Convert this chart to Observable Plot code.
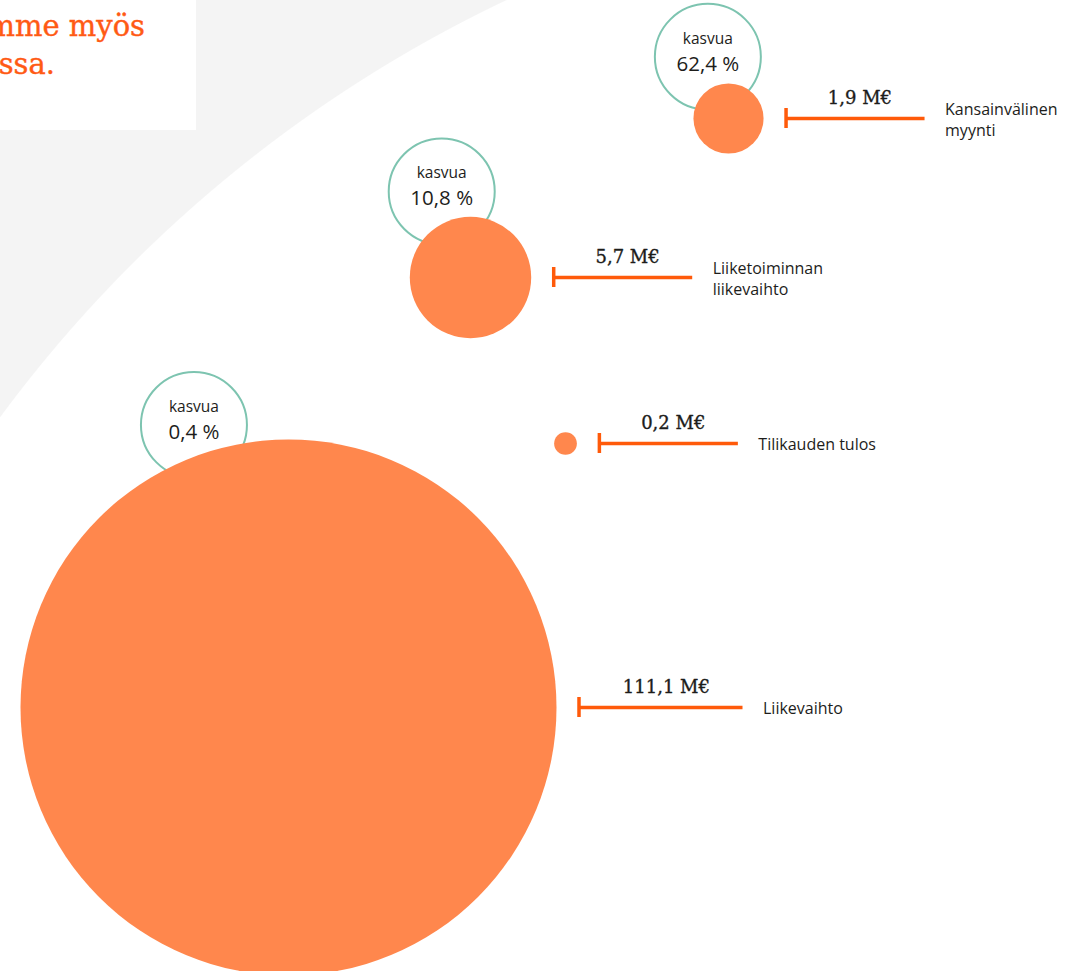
<!DOCTYPE html>
<html><head><meta charset="utf-8">
<script src="https://cdn.jsdelivr.net/npm/d3@7"></script>
<script src="https://cdn.jsdelivr.net/npm/@observablehq/plot@0.6"></script>
<style>
html,body{margin:0;padding:0;background:#fff;overflow:hidden}
#wrap{position:relative;width:1071px;height:971px;background:radial-gradient(1347px circle at 1084px 1217px,#ffffff 1346.5px,#f4f4f4 1347.5px);overflow:hidden}
#chart svg{display:block}
#box{position:absolute;left:0;top:0;width:196px;height:130px;background:#fff;overflow:hidden;font-family:"DejaVu Serif",serif;font-size:29px;line-height:29px;color:#FF5A14;-webkit-text-stroke:0.4px #FF5A14}
#box div{position:absolute;white-space:nowrap;text-align:right}
</style></head><body>
<div id="wrap"><div id="chart"></div><div id="box"><div id="l1" style="top:11.5px;right:51px">mme myös</div><div id="l2" style="top:49.5px;right:141px">ssa.</div></div></div>
<script>
// ---- data ----
const categories = ["Liikevaihto", "Liiketoiminnan\nliikevaihto", "Kansainvälinen\nmyynti", "Tilikauden tulos"];
const values = [111.1, 5.7, 1.9, 0.2];            // M€
const valueLabels = ["111,1 M€", "5,7 M€", "1,9 M€", "0,2 M€"];
const growth = [0.4, 10.8, 62.4, null];           // kasvua %

// ---- layout (bubble centres in page units, label line lengths) ----
const bubbleX = [288, 470, 728, 565];
const bubbleY = [707, 277, 118, 443];
const lineLen = [164, 139, 139, 139];

const W = 1071, H = 971;
const rOpts = {type: "sqrt", domain: [0, d3.max(values)], range: [0, 268]};
const rScale = Plot.scale({r: rOpts});
const ang = 18.5 * Math.PI / 180;

const rows = categories.map((c, i) => {
  const rp = rScale.apply(values[i]);
  const x1 = bubbleX[i] + rp + 22.5;
  const x2 = x1 + lineLen[i];
  const d = rp + 30;
  return {
    category: c, value: values[i], label: valueLabels[i], growth: growth[i],
    bx: bubbleX[i], by: bubbleY[i], x1, x2,
    gx: bubbleX[i] - d * Math.sin(ang), gy: bubbleY[i] - d * Math.cos(ang),
    growthLabel: growth[i] == null ? null : growth[i].toFixed(1).replace(".", ",") + " %"
  };
});
const grow = rows.filter(d => d.growth != null);

const orange = "#FF874D", line = "#FF5A0A", teal = "#7DC4B0", ink = "#1d1d1b";
const sans = "Open Sans", serif = "DejaVu Serif";

const chart = Plot.plot({
  width: W, height: H, margin: 0,
  style: {background: "transparent", overflow: "hidden"},
  x: {domain: [0, W], range: [0, W], axis: null},
  y: {domain: [0, H], range: [0, H], axis: null},
  r: rOpts,
  marks: [
    Plot.dot(grow, {x: "gx", y: "gy", r: 53, fill: "white", stroke: teal, strokeWidth: 2}),
    Plot.text(grow, {x: "gx", y: "gy", text: () => "kasvua", lineAnchor: "bottom", dy: -13, fontFamily: sans, fontSize: 15.5, fill: ink}),
    Plot.text(grow, {x: "gx", y: "gy", text: "growthLabel", lineAnchor: "bottom", dy: 14, fontFamily: sans, fontSize: 20.5, fill: ink}),
    Plot.dot(rows, {x: "bx", y: "by", r: "value", fill: orange}),
    Plot.ruleY(rows, {y: "by", x1: "x1", x2: "x2", stroke: line, strokeWidth: 3.5}),
    Plot.ruleX(rows, {x: "x1", y1: d => d.by - 10, y2: d => d.by + 10, stroke: line, strokeWidth: 3.5}),
    Plot.text(rows, {x: d => d.x2 - 33, y: "by", text: "label", textAnchor: "end", lineAnchor: "bottom", dy: -15, fontFamily: serif, fontSize: 18, fill: ink, stroke: ink, strokeWidth: 0.35}),
    Plot.text(rows, {x: d => d.x2 + 20, y: "by", text: "category", textAnchor: "start", lineHeight: 1.33, fontFamily: sans, fontSize: 16, fill: ink})
  ]
});
document.getElementById("chart").appendChild(chart);
</script>
</body></html>
